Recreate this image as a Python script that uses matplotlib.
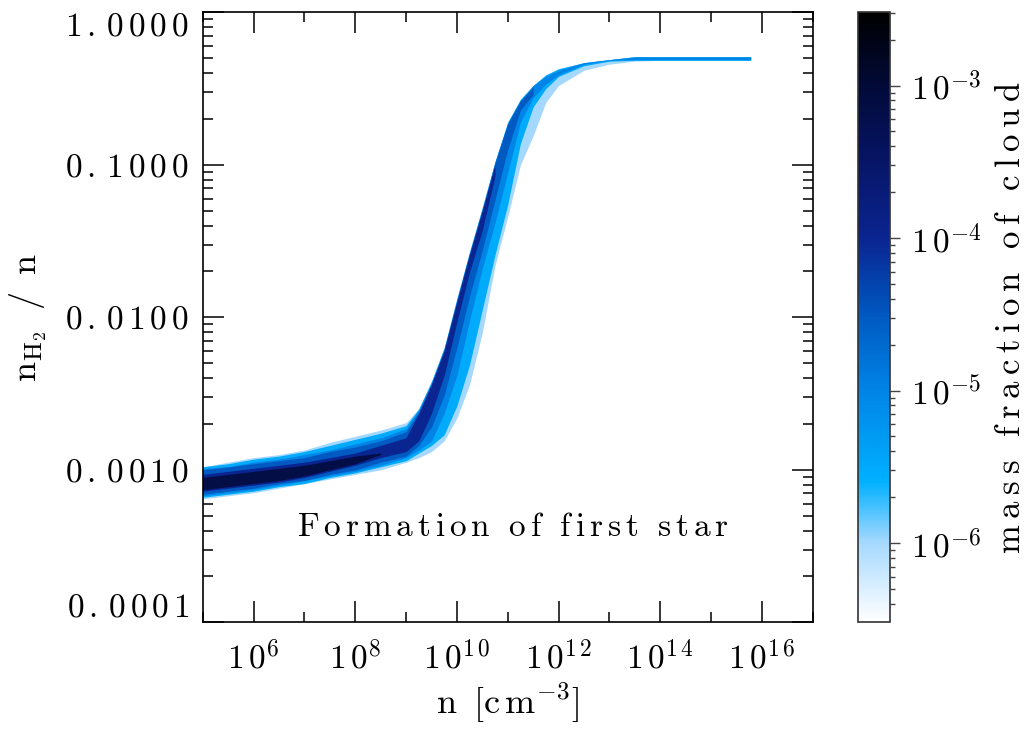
import numpy as np
import matplotlib
matplotlib.use("Agg")
import matplotlib.pyplot as plt
from matplotlib.colors import LinearSegmentedColormap, LogNorm
from matplotlib.cm import ScalarMappable

plt.rcParams['font.family'] = 'cmr10'
plt.rcParams['mathtext.fontset'] = 'cm'
plt.rcParams['axes.formatter.use_mathtext'] = True

# density grid, log10(n / cm^-3)
log_n = [5.0, 5.5, 6.0, 6.5, 7.0, 7.5, 8.0, 8.5, 9.0, 9.25, 9.5, 9.75, 10.0,
         10.25, 10.5, 10.75, 11.0, 11.25, 11.5, 11.75, 12.0, 12.5, 13.0, 13.5,
         14.0, 15.0, 15.78]

# log10(n_H2/n): upper / lower edge of the cloud at each mass-fraction level
outer_hi = [-2.98, -2.95, -2.92, -2.90, -2.87, -2.82, -2.78, -2.74, -2.69, -2.60,
            -2.42, -2.20, -1.87, -1.57, -1.28, -0.98, -0.72, -0.57, -0.48, -0.41,
            -0.37, -0.33, -0.31, -0.29, -0.29, -0.29, -0.29]
outer_lo = [-3.19, -3.17, -3.15, -3.12, -3.09, -3.06, -3.03, -3.00, -2.95, -2.92,
            -2.88, -2.81, -2.66, -2.44, -2.10, -1.66, -1.34, -1.00, -0.81, -0.59,
            -0.48, -0.38, -0.34, -0.32, -0.315, -0.315, -0.315]
bright_hi = [-2.98, -2.96, -2.93, -2.91, -2.88, -2.84, -2.80, -2.76, -2.71, -2.60,
             -2.42, -2.20, -1.88, -1.57, -1.28, -0.98, -0.72, -0.57, -0.48, -0.41,
             -0.37, -0.33, -0.31, -0.29, -0.29, -0.29, -0.29]
bright_lo = [-3.18, -3.16, -3.14, -3.11, -3.09, -3.05, -3.02, -2.98, -2.94, -2.89,
             -2.84, -2.77, -2.58, -2.31, -1.95, -1.59, -1.26, -0.86, -0.62, -0.50,
             -0.42, -0.35, -0.32, -0.315, -0.315, -0.315, -0.315]
mid_hi = [-2.99, -2.98, -2.95, -2.93, -2.90, -2.87, -2.83, -2.79, -2.73, -2.61,
          -2.43, -2.21, -1.89, -1.58, -1.29, -0.98, -0.73, -0.58, -0.48, -0.42,
          -0.38, -0.33, -0.31, -0.293, -0.293, -0.293, -0.293]
mid_lo = [-3.17, -3.15, -3.13, -3.10, -3.07, -3.04, -3.01, -2.97, -2.92, -2.87,
          -2.81, -2.63, -2.38, -2.02, -1.68, -1.38, -1.05, -0.72, -0.56, -0.47,
          -0.41, -0.34, -0.315, -0.31, -0.31, -0.31, -0.31]
deep_hi = [-3.00, -2.98, -2.96, -2.94, -2.92, -2.88, -2.85, -2.81, -2.75, -2.62,
           -2.44, -2.21, -1.89, -1.58, -1.30, -0.99, -0.73, -0.58, -0.49]
deep_lo = [-3.16, -3.14, -3.12, -3.09, -3.07, -3.03, -3.00, -2.95, -2.91, -2.84,
           -2.72, -2.51, -2.20, -1.86, -1.56, -1.23, -0.90, -0.64, -0.54]
dark_hi = [-3.03, -3.01, -2.99, -2.97, -2.95, -2.92, -2.89, -2.84, -2.79, -2.63,
           -2.44, -2.22, -1.90, -1.59, -1.30, -1.00]
dark_lo = [-3.14, -3.12, -3.10, -3.08, -3.05, -3.01, -2.97, -2.92, -2.88, -2.81,
           -2.63, -2.38, -2.03, -1.70, -1.43, -1.07]
core_hi = [-3.05, -3.03, -3.01, -2.99, -2.97, -2.94, -2.91, -2.89]
core_lo = [-3.13, -3.11, -3.09, -3.07, -3.04, -3.00, -2.96, -2.90]

# mass fraction per cell for each envelope, outermost first
levels = [1e-6, 3e-6, 1e-5, 3e-5, 1e-4, 7e-4]

# colour table of the mass fraction scale (log10 value, colour)
cmap_logs = [-6.52, -6.0, -5.6, -5.0, -4.5, -4.0, -3.5, -3.0, -2.52]
cmap_cols = ['#ffffff', '#a5d8ff', '#00b0ff', '#0084e6', '#0058c0', '#0a2490',
             '#061566', '#020a38', '#000000']

cb_ticks = [1e-6, 1e-5, 1e-4, 1e-3]
y_ticks = [1e-4, 1e-3, 1e-2, 1e-1, 1.0]
y_labels = ['0.0001', '0.0010', '0.0100', '0.1000', '1.0000']
x_ticks = [1e6, 1e8, 1e10, 1e12, 1e14, 1e16]


def spaced(s, gap=r'\,'):
    # loosely tracked roman text
    toks = [r'\ ' if c == ' ' else c for c in s]
    return r'$\mathrm{' + gap.join(toks) + '}$'


def pow10(e):
    return r'$1\,0^{' + r'\,'.join(str(e)) + '}$' if e > 0 else r'$1\,0^{%d}$' % e


vmin, vmax = 10 ** cmap_logs[0], 10 ** cmap_logs[-1]
pos = [(v - cmap_logs[0]) / (cmap_logs[-1] - cmap_logs[0]) for v in cmap_logs]
cmap = LinearSegmentedColormap.from_list('h2cloud', list(zip(pos, cmap_cols)))
norm = LogNorm(vmin=vmin, vmax=vmax)

fig = plt.figure(figsize=(10.29, 7.30), dpi=100)
ax = fig.add_axes([0.197, 0.1475, 0.5928, 0.8356])

n = 10 ** np.array(log_n)
bands = [(outer_lo, outer_hi), (bright_lo, bright_hi), (mid_lo, mid_hi),
         (deep_lo, deep_hi), (dark_lo, dark_hi), (core_lo, core_hi)]
for (lo, hi), lev in zip(bands, levels):
    k = len(lo)
    ax.fill_between(n[:k], 10 ** np.array(lo), 10 ** np.array(hi),
                    color=cmap(norm(lev)), lw=0, zorder=2)

ax.set_xscale('log')
ax.set_yscale('log')
ax.set_xlim(1e5, 1e17)
ax.set_ylim(1e-4, 1.0)

ax.set_xticks(x_ticks)
ax.set_xticklabels([pow10(int(round(np.log10(t)))) for t in x_ticks])
ax.set_xticks([10.0 ** k for k in range(5, 18, 2)], minor=True)
ax.set_yticks(y_ticks)
ax.set_yticklabels([spaced(s) for s in y_labels])
ax.set_yticks([m * 10.0 ** e for e in range(-4, 0) for m in range(2, 10)], minor=True)
ax.tick_params(which='both', direction='in', top=True, right=True, width=1.1,
               labelsize=24, colors='black')
ax.tick_params(which='major', length=15, pad=10)
ax.tick_params(axis='x', which='major', pad=13)
ax.tick_params(which='minor', length=7.5)
ax.tick_params(axis='y', which='minor', labelleft=False)
ax.tick_params(axis='x', which='minor', labelbottom=False)
for s in ax.spines.values():
    s.set_linewidth(1.2)
ylab = ax.get_yticklabels()
ylab[0].set_va('bottom')
ylab[-1].set_va('top')

ax.set_xlabel(r'$\mathrm{n}\;\;[\mathrm{c\,m}^{-3}]$', fontsize=26, labelpad=4)
ax.set_ylabel(r'$\mathrm{n}_{\mathrm{H}_2}\;\;/\;\;\mathrm{n}$', fontsize=26,
              labelpad=12)
ax.text(0.508, 0.156, spaced('Formation of first star'), fontsize=24,
        ha='center', va='center', transform=ax.transAxes)

cax = fig.add_axes([0.8338, 0.1475, 0.0311, 0.8356])
cb = fig.colorbar(ScalarMappable(norm=norm, cmap=cmap), cax=cax)
cb.set_ticks(cb_ticks)
cb.set_ticklabels([pow10(int(round(np.log10(t)))) for t in cb_ticks])
cb.ax.tick_params(which='both', direction='out', labelsize=24, width=1.0,
                  color='#444444')
cb.ax.tick_params(which='major', length=7, pad=8)
cb.ax.tick_params(which='minor', length=3.5)
cb.outline.set_linewidth(1.2)
cb.outline.set_edgecolor('#333333')
cb.set_label(spaced('mass fraction of cloud', r'\:'), fontsize=25, labelpad=10)

fig.savefig('out.png', dpi=100)
